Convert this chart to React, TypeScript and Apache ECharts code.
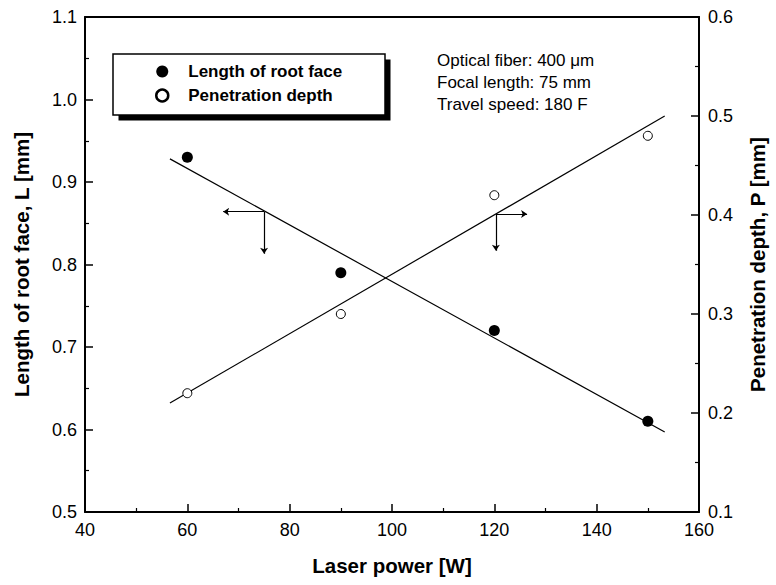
import React, { useEffect, useRef } from "react";
import * as echarts from "echarts";

const laserPower = [60, 90, 120, 150];
const rootFaceLength = [0.93, 0.79, 0.72, 0.61];
const penetrationDepth = [0.22, 0.3, 0.42, 0.48];

const rootFitX = [56.6, 153.3];
const rootFitY = [0.928, 0.597];
const depthFitX = [56.6, 153.3];
const depthFitY = [0.21, 0.5];

// arrows: corner -> end
const leftArrowCorner = [75, 0.864];
const leftArrowHorizEndX = 67;
const leftArrowVertEndY = 0.813;
const rightArrowCorner = [120.3, 0.401];
const rightArrowHorizEndX = 126.4;
const rightArrowVertEndY = 0.364;

const xTicks = { min: 40, max: 160, interval: 20 };
const yLeftTicks = { min: 0.5, max: 1.1, interval: 0.1 };
const yRightTicks = { min: 0.1, max: 0.6, interval: 0.1 };

const annotationLines = [
  "Optical fiber: 400 \u03bcm",
  "Focal length: 75 mm",
  "Travel speed: 180 F",
];

const FONT = "'Liberation Sans', Arial, Helvetica, sans-serif";

export default function App() {
  const ref = useRef<HTMLDivElement>(null);
  useEffect(() => {
    if (!ref.current) return;
    const chart = echarts.init(ref.current, undefined, { renderer: "svg" });
    const axisCommon = {
      axisLine: { show: true, onZero: false, lineStyle: { color: "#000", width: 2 } },
      axisTick: { show: true, inside: true, length: 8, lineStyle: { color: "#000", width: 1.5 } },
      minorTick: { show: true, splitNumber: 2, length: 4, lineStyle: { color: "#000", width: 1.2 } },
      splitLine: { show: false },
      axisLabel: { color: "#000", fontSize: 18, fontFamily: FONT },
    };
    const titleStyle = { color: "#000", fontSize: 20.5, fontWeight: "bold", fontFamily: FONT };
    const option: any = {
      animation: false,
      backgroundColor: "#fff",
      grid: { left: 85, right: 72, top: 17, bottom: 73, containLabel: false },
      xAxis: [
        {
          type: "value",
          position: "bottom",
          min: xTicks.min,
          max: xTicks.max,
          interval: xTicks.interval,
          name: "Laser power [W]",
          nameLocation: "middle",
          nameGap: 43,
          nameTextStyle: titleStyle,
          ...axisCommon,
          axisLabel: { ...axisCommon.axisLabel, margin: 9 },
        },
        {
          type: "value",
          position: "top",
          min: xTicks.min,
          max: xTicks.max,
          interval: xTicks.interval,
          axisLine: { show: true, onZero: false, lineStyle: { color: "#000", width: 2 } },
          axisTick: { show: false },
          axisLabel: { show: false },
          splitLine: { show: false },
        },
      ],
      yAxis: [
        {
          type: "value",
          position: "left",
          min: yLeftTicks.min,
          max: yLeftTicks.max,
          interval: yLeftTicks.interval,
          name: "Length of root face, L [mm]",
          nameLocation: "middle",
          nameGap: 53,
          nameTextStyle: titleStyle,
          ...axisCommon,
          axisLabel: {
            ...axisCommon.axisLabel,
            margin: 8,
            formatter: (v: number) => v.toFixed(1),
          },
        },
        {
          type: "value",
          position: "right",
          min: yRightTicks.min,
          max: yRightTicks.max,
          interval: yRightTicks.interval,
          name: "Penetration depth, P [mm]",
          nameLocation: "middle",
          nameGap: 48,
          nameTextStyle: titleStyle,
          ...axisCommon,
          axisLabel: {
            ...axisCommon.axisLabel,
            margin: 9,
            formatter: (v: number) => v.toFixed(1),
          },
        },
      ],
      legend: {
        show: true,
        orient: "vertical",
        left: 150,
        top: 58,
        z: 10,
        itemWidth: 12,
        itemHeight: 12,
        itemGap: 7,
        padding: 5,
        textStyle: {
          color: "#000",
          fontSize: 17,
          fontWeight: "bold",
          fontFamily: FONT,
          padding: [0, 0, 0, 15],
        },
        data: [
          { name: "Length of root face", icon: "circle", itemStyle: { color: "#000", borderWidth: 0, opacity: 1 } },
          {
            name: "Penetration depth",
            icon: "circle",
            itemStyle: { color: "#fff", borderColor: "#000", borderWidth: 2.5, opacity: 1 },
          },
        ],
      },
      graphic: {
        z: 5,
        elements: [
          {
            type: "rect",
            z: 1,
            shape: { x: 118.5, y: 59.5, width: 272, height: 61 },
            style: { fill: "#000" },
            silent: true,
          },
          {
            type: "rect",
            z: 2,
            shape: { x: 113, y: 54, width: 272, height: 61 },
            style: { fill: "#fff", stroke: "#000", lineWidth: 1.5 },
            silent: true,
          },
          ...annotationLines.map((t, i) => ({
            type: "text",
            z: 3,
            x: 437,
            y: 52 + i * 22,
            style: { text: t, fill: "#000", fontSize: 17, fontFamily: FONT },
            silent: true,
          })),
        ],
      },
      series: [
        {
          name: "Length of root face",
          type: "scatter",
          xAxisIndex: 0,
          yAxisIndex: 0,
          symbol: "circle",
          symbolSize: 11,
          itemStyle: { color: "#000", opacity: 1 },
          data: laserPower.map((x, i) => [x, rootFaceLength[i]]),
          z: 4,
        },
        {
          name: "Penetration depth",
          type: "scatter",
          xAxisIndex: 0,
          yAxisIndex: 1,
          symbol: "circle",
          symbolSize: 9,
          itemStyle: { color: "#fff", borderColor: "#000", borderWidth: 1, opacity: 1 },
          data: laserPower.map((x, i) => [x, penetrationDepth[i]]),
          z: 4,
        },
        {
          name: "root fit",
          type: "line",
          xAxisIndex: 0,
          yAxisIndex: 0,
          showSymbol: false,
          symbol: "none",
          lineStyle: { color: "#000", width: 1.2 },
          data: rootFitX.map((x, i) => [x, rootFitY[i]]),
          z: 3,
        },
        {
          name: "depth fit",
          type: "line",
          xAxisIndex: 0,
          yAxisIndex: 1,
          showSymbol: false,
          symbol: "none",
          lineStyle: { color: "#000", width: 1.2 },
          data: depthFitX.map((x, i) => [x, depthFitY[i]]),
          z: 3,
        },
        {
          name: "left arrows",
          type: "lines",
          coordinateSystem: "cartesian2d",
          xAxisIndex: 0,
          yAxisIndex: 0,
          symbol: ["none", "arrow"],
          symbolSize: [0, 6],
          lineStyle: { color: "#000", width: 1.2, opacity: 1 },
          data: [
            { coords: [leftArrowCorner, [leftArrowHorizEndX, leftArrowCorner[1]]] },
            { coords: [leftArrowCorner, [leftArrowCorner[0], leftArrowVertEndY]] },
          ],
          z: 3,
        },
        {
          name: "right arrows",
          type: "lines",
          coordinateSystem: "cartesian2d",
          xAxisIndex: 0,
          yAxisIndex: 1,
          symbol: ["none", "arrow"],
          symbolSize: [0, 6],
          lineStyle: { color: "#000", width: 1.2, opacity: 1 },
          data: [
            { coords: [rightArrowCorner, [rightArrowHorizEndX, rightArrowCorner[1]]] },
            { coords: [rightArrowCorner, [rightArrowCorner[0], rightArrowVertEndY]] },
          ],
          z: 3,
        },
      ],
    };
    chart.setOption(option);
    return () => chart.dispose();
  }, []);
  return <div ref={ref} style={{ width: 776, height: 585, position: "absolute", left: 0, top: 0 }} />;
}
